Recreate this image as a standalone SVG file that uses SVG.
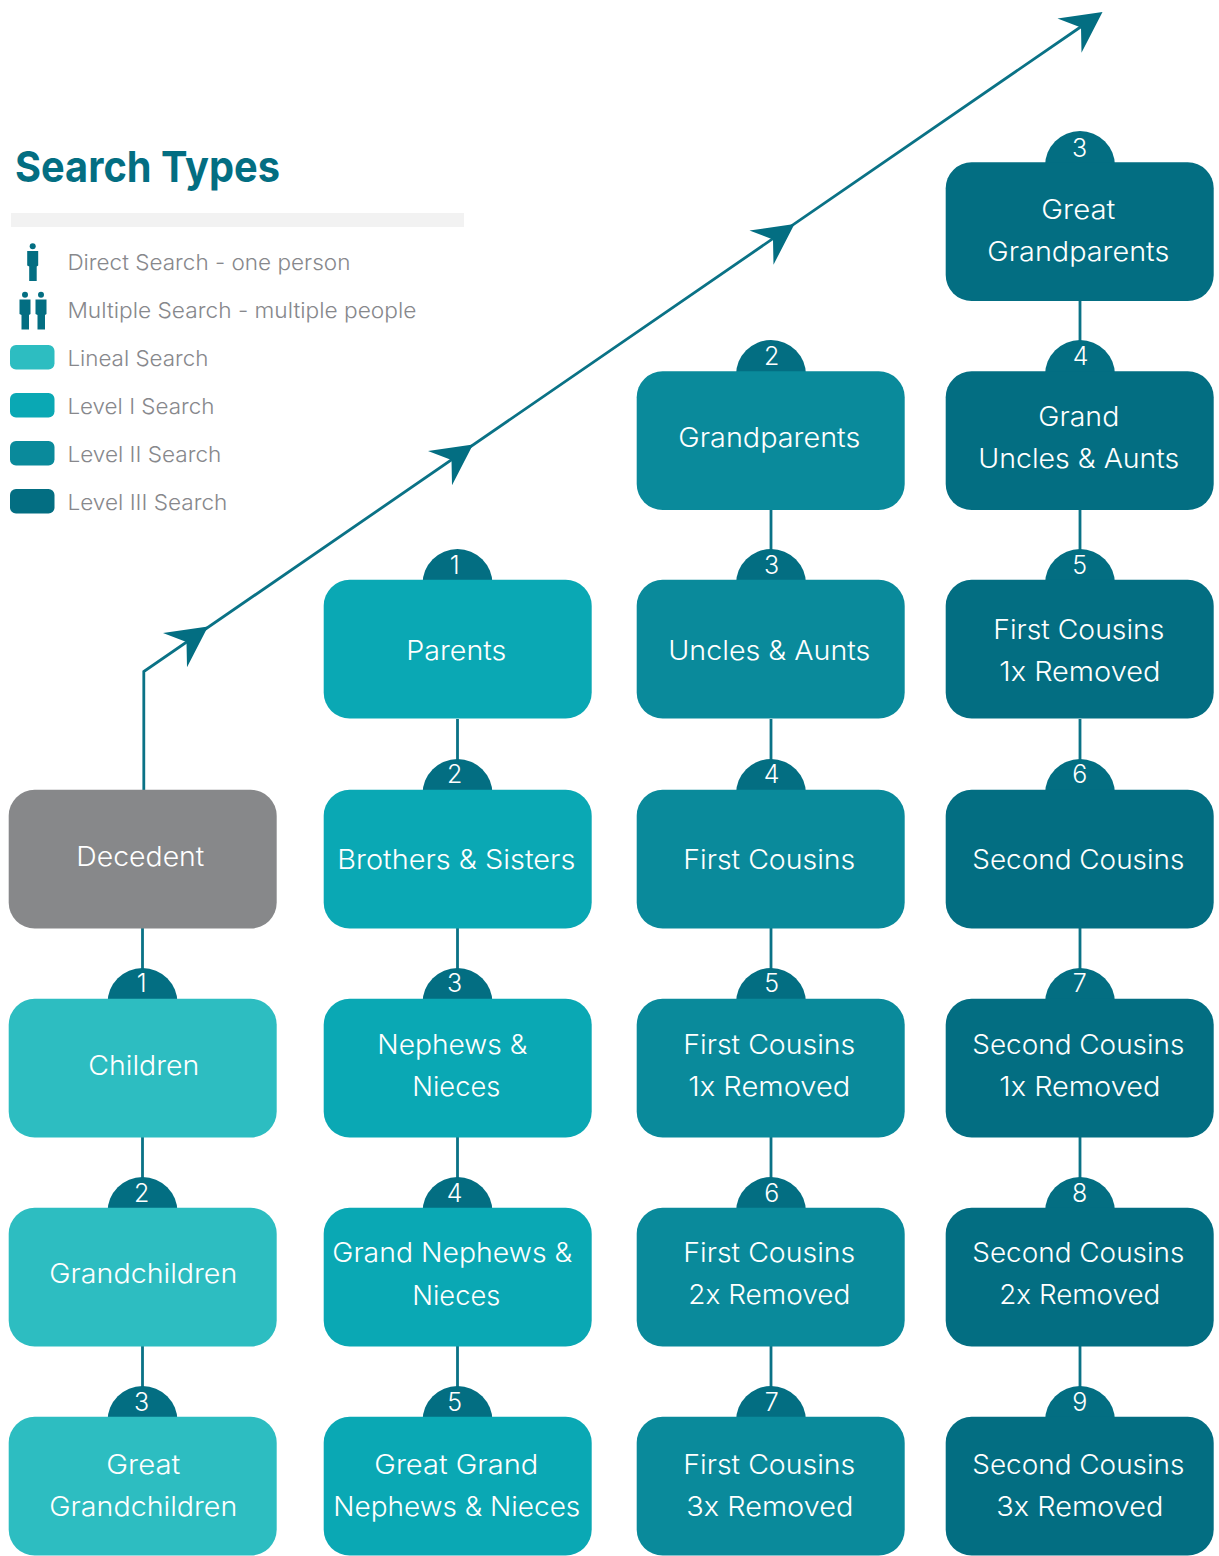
<svg xmlns="http://www.w3.org/2000/svg" width="1219" height="1556" viewBox="0 0 1219 1556">
<style>
text{font-family:"Inter","Noto Sans","Liberation Sans",sans-serif}
.n{rx:26px;ry:26px;width:268px;height:138.700px;transform:translate(-.3px,-.2px)}
.t{font-size:27px;font-weight:300;fill:#fff;text-anchor:middle;transform:translate(-.7px,.3px)}
.b{font-size:25px;font-weight:300;fill:#fff;text-anchor:middle;transform:translate(-.3px,.4px)}
.l{font-size:22px;font-weight:300;fill:#87888c;transform:translate(-.6px,.3px)}
.c{fill:#036e82}
.ln{fill:#2dbdc1}.l1{fill:#0aa8b4}.l2{fill:#0a8a9b}.l3{fill:#036e82}.gr{fill:#87888a}
.conn{stroke:#0a7286;stroke-width:2.800px;fill:none}
.s{rx:6px;ry:6px;width:44.500px;height:24.500px}
</style>
<defs>
<polygon id="ah" class="c" points="0,0 -45,6.500 -21.500,15.500 -21,40.700"/>
<g id="person" class="c"><circle cx="0" cy="3.200" r="3"/><path d="M-5.500 8H5.500V22.500L4 23.500V38H-3.500V23.500L-5.500 22.500Z"/></g>
</defs>
<g id="legend">
<text x="15" y="181.500" font-size="43" font-weight="700" fill="#036e82" textLength="265" lengthAdjust="spacingAndGlyphs">Search Types</text>
<rect x="11" y="213" width="453" height="14" fill="#f2f2f2"/>
<use href="#person" x="32.700" y="243"/>
<use href="#person" x="25" y="291.500"/>
<use href="#person" x="41" y="291.500"/>
<rect class="s ln" x="10" y="345"/><rect class="s l1" x="10" y="393"/><rect class="s l2" x="10" y="441"/><rect class="s l3" x="10" y="489"/>
<text class="l" x="68" y="270" textLength="283" lengthAdjust="spacingAndGlyphs">Direct Search - one person</text>
<text class="l" x="68" y="318" textLength="349" lengthAdjust="spacingAndGlyphs">Multiple Search - multiple people</text>
<text class="l" x="68" y="366" textLength="141" lengthAdjust="spacingAndGlyphs">Lineal Search</text>
<text class="l" x="68" y="414" textLength="147" lengthAdjust="spacingAndGlyphs">Level I Search</text>
<text class="l" x="68" y="462" textLength="154" lengthAdjust="spacingAndGlyphs">Level II Search</text>
<text class="l" x="68" y="510" textLength="160" lengthAdjust="spacingAndGlyphs">Level III Search</text>
</g>
<g id="connectors">
<path class="conn" d="M143.800 790V671.500L1082 26"/>
<path class="conn" d="M142.500 928V970M142.500 1137V1180M142.500 1346V1388M457.500 719V760M457.500 928V970M457.500 1137V1180M457.500 1346V1388M771 510V550M771 719V760M771 928V970M771 1137V1180M771 1346V1388M1080 301V342M1080 510V550M1080 719V760M1080 928V970M1080 1137V1180M1080 1346V1388"/>
<use href="#ah" x="208" y="626.500"/><use href="#ah" x="473" y="444.500"/><use href="#ah" x="794.500" y="224"/><use href="#ah" x="1102.500" y="12"/>
</g>
<g id="n-decedent"><rect class="n gr" x="9" y="790"/><text class="t" x="141" y="866" textLength="128" lengthAdjust="spacingAndGlyphs">Decedent</text></g>
<g id="n-children"><circle class="c" cx="142.500" cy="1003" r="35"/><rect class="n ln" x="9" y="999"/><text class="b" x="142" y="992">1</text><text class="t" x="144.500" y="1075" textLength="111" lengthAdjust="spacingAndGlyphs">Children</text></g>
<g id="n-grandchildren"><circle class="c" cx="142.500" cy="1212" r="35"/><rect class="n ln" x="9" y="1208"/><text class="b" x="142" y="1202">2</text><text class="t" x="144" y="1283" textLength="188" lengthAdjust="spacingAndGlyphs">Grandchildren</text></g>
<g id="n-great-grandchildren"><circle class="c" cx="142.500" cy="1421" r="35"/><rect class="n ln" x="9" y="1417"/><text class="b" x="142" y="1411">3</text><text class="t" x="144" y="1474" textLength="74" lengthAdjust="spacingAndGlyphs">Great</text><text class="t" x="144" y="1516" textLength="188" lengthAdjust="spacingAndGlyphs">Grandchildren</text></g>
<g id="n-parents"><circle class="c" cx="457.500" cy="584" r="35"/><rect class="n l1" x="324" y="580"/><text class="b" x="455" y="574">1</text><text class="t" x="457" y="660" textLength="100" lengthAdjust="spacingAndGlyphs">Parents</text></g>
<g id="n-siblings"><circle class="c" cx="457.500" cy="794" r="35"/><rect class="n l1" x="324" y="790"/><text class="b" x="455" y="783">2</text><text class="t" x="457" y="869" textLength="238" lengthAdjust="spacingAndGlyphs">Brothers &amp; Sisters</text></g>
<g id="n-nephews"><circle class="c" cx="457.500" cy="1003" r="35"/><rect class="n l1" x="324" y="999"/><text class="b" x="455" y="992">3</text><text class="t" x="453" y="1054" textLength="150" lengthAdjust="spacingAndGlyphs">Nephews &amp;</text><text class="t" x="457" y="1096" textLength="88" lengthAdjust="spacingAndGlyphs">Nieces</text></g>
<g id="n-grand-nephews"><circle class="c" cx="457.500" cy="1212" r="35"/><rect class="n l1" x="324" y="1208"/><text class="b" x="455" y="1202">4</text><text class="t" x="453" y="1262" textLength="240" lengthAdjust="spacingAndGlyphs">Grand Nephews &amp;</text><text class="t" x="457" y="1305" textLength="88" lengthAdjust="spacingAndGlyphs">Nieces</text></g>
<g id="n-great-grand-nephews"><circle class="c" cx="457.500" cy="1421" r="35"/><rect class="n l1" x="324" y="1417"/><text class="b" x="455" y="1411">5</text><text class="t" x="457" y="1474" textLength="164" lengthAdjust="spacingAndGlyphs">Great Grand</text><text class="t" x="457.500" y="1516" textLength="247" lengthAdjust="spacingAndGlyphs">Nephews &amp; Nieces</text></g>
<g id="n-grandparents"><circle class="c" cx="771" cy="375" r="35"/><rect class="n l2" x="637" y="371.500"/><text class="b" x="772" y="365">2</text><text class="t" x="770" y="447" textLength="182" lengthAdjust="spacingAndGlyphs">Grandparents</text></g>
<g id="n-uncles"><circle class="c" cx="771" cy="584" r="35"/><rect class="n l2" x="637" y="580"/><text class="b" x="772" y="574">3</text><text class="t" x="770" y="660" textLength="202" lengthAdjust="spacingAndGlyphs">Uncles &amp; Aunts</text></g>
<g id="n-first-cousins"><circle class="c" cx="771" cy="794" r="35"/><rect class="n l2" x="637" y="790"/><text class="b" x="772" y="783">4</text><text class="t" x="770" y="869" textLength="172" lengthAdjust="spacingAndGlyphs">First Cousins</text></g>
<g id="n-first-cousins-1x"><circle class="c" cx="771" cy="1003" r="35"/><rect class="n l2" x="637" y="999"/><text class="b" x="772" y="992">5</text><text class="t" x="770" y="1054" textLength="172" lengthAdjust="spacingAndGlyphs">First Cousins</text><text class="t" x="770" y="1096" textLength="162" lengthAdjust="spacingAndGlyphs">1x Removed</text></g>
<g id="n-first-cousins-2x"><circle class="c" cx="771" cy="1212" r="35"/><rect class="n l2" x="637" y="1208"/><text class="b" x="772" y="1202">6</text><text class="t" x="770" y="1262" textLength="172" lengthAdjust="spacingAndGlyphs">First Cousins</text><text class="t" x="770" y="1304" textLength="162" lengthAdjust="spacingAndGlyphs">2x Removed</text></g>
<g id="n-first-cousins-3x"><circle class="c" cx="771" cy="1421" r="35"/><rect class="n l2" x="637" y="1417"/><text class="b" x="772" y="1411">7</text><text class="t" x="770" y="1474" textLength="172" lengthAdjust="spacingAndGlyphs">First Cousins</text><text class="t" x="770.500" y="1516" textLength="167" lengthAdjust="spacingAndGlyphs">3x Removed</text></g>
<g id="n-great-grandparents"><circle class="c" cx="1080" cy="166" r="35"/><rect class="n l3" x="946" y="162.500"/><text class="b" x="1080" y="157">3</text><text class="t" x="1079" y="219" textLength="74" lengthAdjust="spacingAndGlyphs">Great</text><text class="t" x="1079" y="261" textLength="182" lengthAdjust="spacingAndGlyphs">Grandparents</text></g>
<g id="n-grand-uncles"><circle class="c" cx="1080" cy="375" r="35"/><rect class="n l3" x="946" y="371.500"/><text class="b" x="1081" y="365">4</text><text class="t" x="1079.500" y="426" textLength="81" lengthAdjust="spacingAndGlyphs">Grand</text><text class="t" x="1079.500" y="468" textLength="201" lengthAdjust="spacingAndGlyphs">Uncles &amp; Aunts</text></g>
<g id="n-first-cousins-1x-b"><circle class="c" cx="1080" cy="584" r="35"/><rect class="n l3" x="946" y="580"/><text class="b" x="1080" y="574">5</text><text class="t" x="1079.500" y="639" textLength="171" lengthAdjust="spacingAndGlyphs">First Cousins</text><text class="t" x="1080.500" y="681" textLength="161" lengthAdjust="spacingAndGlyphs">1x Removed</text></g>
<g id="n-second-cousins"><circle class="c" cx="1080" cy="794" r="35"/><rect class="n l3" x="946" y="790"/><text class="b" x="1080" y="783">6</text><text class="t" x="1079" y="869" textLength="212" lengthAdjust="spacingAndGlyphs">Second Cousins</text></g>
<g id="n-second-cousins-1x"><circle class="c" cx="1080" cy="1003" r="35"/><rect class="n l3" x="946" y="999"/><text class="b" x="1080" y="992">7</text><text class="t" x="1079" y="1054" textLength="212" lengthAdjust="spacingAndGlyphs">Second Cousins</text><text class="t" x="1080.500" y="1096" textLength="161" lengthAdjust="spacingAndGlyphs">1x Removed</text></g>
<g id="n-second-cousins-2x"><circle class="c" cx="1080" cy="1212" r="35"/><rect class="n l3" x="946" y="1208"/><text class="b" x="1080" y="1202">8</text><text class="t" x="1079" y="1262" textLength="212" lengthAdjust="spacingAndGlyphs">Second Cousins</text><text class="t" x="1080.500" y="1304" textLength="161" lengthAdjust="spacingAndGlyphs">2x Removed</text></g>
<g id="n-second-cousins-3x"><circle class="c" cx="1080" cy="1421" r="35"/><rect class="n l3" x="946" y="1417"/><text class="b" x="1080" y="1411">9</text><text class="t" x="1079" y="1474" textLength="212" lengthAdjust="spacingAndGlyphs">Second Cousins</text><text class="t" x="1080.500" y="1516" textLength="167" lengthAdjust="spacingAndGlyphs">3x Removed</text></g>
</svg>
